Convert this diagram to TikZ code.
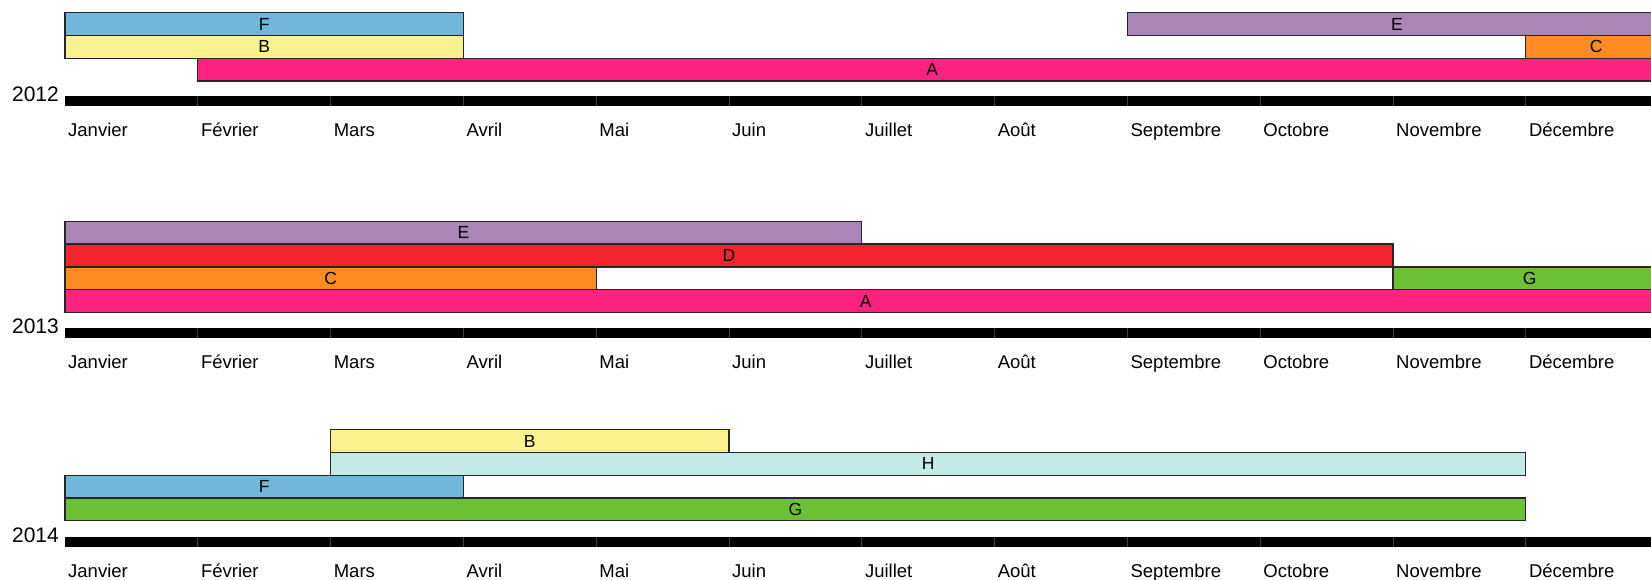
\documentclass[tikz,border=0pt]{standalone}
\usepackage{fontspec}
\setmainfont{Liberation Sans}

\definecolor{colA}{RGB}{255,35,128}
\definecolor{colB}{RGB}{249,242,143}
\definecolor{colC}{RGB}{255,140,35}
\definecolor{colD}{RGB}{242,38,42}
\definecolor{colE}{RGB}{168,134,181}
\definecolor{colF}{RGB}{114,183,219}
\definecolor{colG}{RGB}{108,192,51}
\definecolor{colH}{RGB}{197,233,228}

\tikzset{
	tachebox/.style={draw=black!85, line width=1.3pt},
	tachetext/.style={font=\fontsize{17.5}{18}\selectfont, inner sep=0pt},
	mois/.style={font=\fontsize{18.5}{20}\selectfont, anchor=base west, inner sep=0pt, xshift=3pt},
	annee/.style={font=\fontsize{21}{22}\selectfont, inner sep=0pt},
	trait/.style={draw=black!75, line width=0.8pt}
}

% colour, first month, last month, top, name, text
\newcommand{\tache}[6]{%
	\draw[tachebox, fill=#1] (#2,#4) rectangle (#3,#4+22.8);
	\node[tachetext] (#5) at ({(#2+#3)/2},{#4+11.4}) {#6};
}

\begin{document}
\begin{tikzpicture}[x=132.8pt, y=-1pt]
		% Page
		\useasboundingbox (-65pt,0pt) rectangle (1586pt,-579pt);
		
		% Time axes
		\foreach \yr/\ax in {2012/96, 2013/328, 2014/536.7} {
			\fill (0,\ax) rectangle (12.2,\ax+10);
			\foreach \k in {1,...,11}
				\draw[trait] (\k,\ax) -- (\k,\ax+10);
			\node[annee, left=6pt] (an\yr) at (0,\ax-1.8) {\yr};
			\foreach \m [count=\k from 0] in {Janvier, Février, Mars, Avril, Mai, Juin, Juillet, Août, Septembre, Octobre, Novembre, Décembre}
				\node[mois] (m\yr-\k) at (\k,\ax+40.7) {\m};
		}
		
		% 2012
		\tache{colF}{0}{3}{12.7}{f12}{F}
		\tache{colE}{8}{12.06}{12.7}{e12}{E}
		\tache{colB}{0}{3}{35.5}{b12}{B}
		\tache{colC}{11}{12.06}{35.5}{c12}{C}
		\tache{colA}{1}{12.06}{58.3}{a12}{A}
		
		% 2013
		\tache{colE}{0}{6}{221.3}{e13}{E}
		\tache{colD}{0}{10}{244.1}{d13}{D}
		\tache{colC}{0}{4}{266.9}{c13}{C}
		\tache{colG}{10}{12.06}{266.9}{g13}{G}
		\tache{colA}{0}{12.06}{289.7}{a13}{A}
		
		% 2014
		\tache{colB}{2}{5}{429.6}{b14}{B}
		\tache{colH}{2}{11}{452.4}{h14}{H}
		\tache{colF}{0}{3}{475.2}{f14}{F}
		\tache{colG}{0}{11}{498}{g14}{G}
	\end{tikzpicture}
\end{document}
